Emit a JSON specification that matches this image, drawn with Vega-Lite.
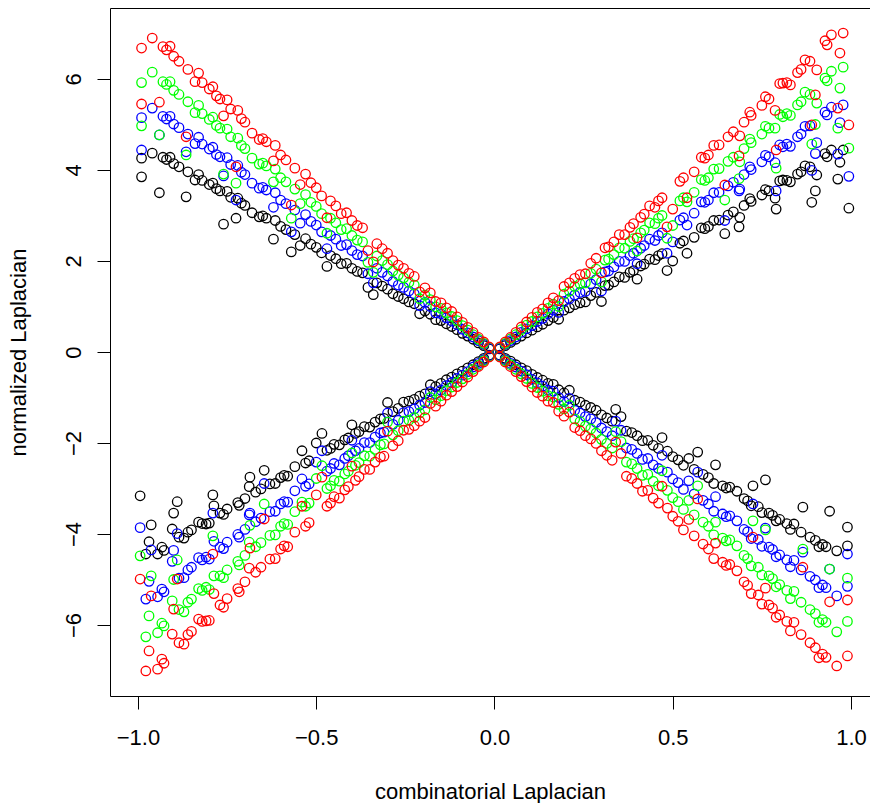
{
"$schema": "https://vega.github.io/schema/vega-lite/v6.json",
"width": 760, "height": 688,
"autosize": "none",
"padding": {"left": 110, "top": 8, "right": 0, "bottom": 107},
"background": "white",
"config": {"view": {"stroke": null}, "font": "Liberation Sans"},
"data": {"values": [
{"x":-0.99,"y":4.26,"c":"k"},{"x":0.99,"y":-4.26,"c":"k"},
{"x":-0.99,"y":3.85,"c":"k"},{"x":0.99,"y":-3.85,"c":"k"},
{"x":-0.96,"y":4.37,"c":"k"},{"x":0.96,"y":-4.37,"c":"k"},
{"x":-0.94,"y":3.5,"c":"k"},{"x":0.94,"y":-3.5,"c":"k"},
{"x":-0.92,"y":4.23,"c":"k"},{"x":0.92,"y":-4.23,"c":"k"},
{"x":-0.91,"y":4.28,"c":"k"},{"x":0.91,"y":-4.28,"c":"k"},
{"x":-0.9,"y":4.14,"c":"k"},{"x":0.9,"y":-4.14,"c":"k"},
{"x":-0.865,"y":3.41,"c":"k"},{"x":0.865,"y":-3.41,"c":"k"},
{"x":-0.86,"y":3.96,"c":"k"},{"x":0.86,"y":-3.96,"c":"k"},
{"x":-0.84,"y":3.78,"c":"k"},{"x":0.84,"y":-3.78,"c":"k"},
{"x":-0.8,"y":3.68,"c":"k"},{"x":0.8,"y":-3.68,"c":"k"},
{"x":-0.79,"y":3.71,"c":"k"},{"x":0.79,"y":-3.71,"c":"k"},
{"x":-0.78,"y":3.59,"c":"k"},{"x":0.78,"y":-3.59,"c":"k"},
{"x":-0.76,"y":2.81,"c":"k"},{"x":0.76,"y":-2.81,"c":"k"},
{"x":-0.74,"y":3.4,"c":"k"},{"x":0.74,"y":-3.4,"c":"k"},
{"x":-0.725,"y":2.94,"c":"k"},{"x":0.725,"y":-2.94,"c":"k"},
{"x":-0.72,"y":3.38,"c":"k"},{"x":0.72,"y":-3.38,"c":"k"},
{"x":-0.7,"y":3.22,"c":"k"},{"x":0.7,"y":-3.22,"c":"k"},
{"x":-0.66,"y":2.97,"c":"k"},{"x":0.66,"y":-2.97,"c":"k"},
{"x":-0.64,"y":2.94,"c":"k"},{"x":0.64,"y":-2.94,"c":"k"},
{"x":-0.62,"y":2.48,"c":"k"},{"x":0.62,"y":-2.48,"c":"k"},
{"x":-0.6,"y":2.76,"c":"k"},{"x":0.6,"y":-2.76,"c":"k"},
{"x":-0.57,"y":2.2,"c":"k"},{"x":0.57,"y":-2.2,"c":"k"},
{"x":-0.56,"y":2.58,"c":"k"},{"x":0.56,"y":-2.58,"c":"k"},
{"x":-0.53,"y":2.49,"c":"k"},{"x":0.53,"y":-2.49,"c":"k"},
{"x":-0.5,"y":2.3,"c":"k"},{"x":0.5,"y":-2.3,"c":"k"},
{"x":-0.47,"y":1.88,"c":"k"},{"x":0.47,"y":-1.88,"c":"k"},
{"x":-0.46,"y":2.12,"c":"k"},{"x":0.46,"y":-2.12,"c":"k"},
{"x":-0.43,"y":1.94,"c":"k"},{"x":0.43,"y":-1.94,"c":"k"},
{"x":-0.4,"y":1.84,"c":"k"},{"x":0.4,"y":-1.84,"c":"k"},
{"x":-0.37,"y":1.74,"c":"k"},{"x":0.37,"y":-1.74,"c":"k"},
{"x":-0.34,"y":1.26,"c":"k"},{"x":0.34,"y":-1.26,"c":"k"},
{"x":-0.33,"y":1.52,"c":"k"},{"x":0.33,"y":-1.52,"c":"k"},
{"x":-0.3,"y":1.38,"c":"k"},{"x":0.3,"y":-1.38,"c":"k"},
{"x":-0.27,"y":1.22,"c":"k"},{"x":0.27,"y":-1.22,"c":"k"},
{"x":-0.24,"y":1.1,"c":"k"},{"x":0.24,"y":-1.1,"c":"k"},
{"x":-0.21,"y":0.84,"c":"k"},{"x":0.21,"y":-0.84,"c":"k"},
{"x":-0.18,"y":0.83,"c":"k"},{"x":0.18,"y":-0.83,"c":"k"},
{"x":-0.15,"y":0.69,"c":"k"},{"x":0.15,"y":-0.69,"c":"k"},
{"x":-0.12,"y":0.56,"c":"k"},{"x":0.12,"y":-0.56,"c":"k"},
{"x":-0.09,"y":0.41,"c":"k"},{"x":0.09,"y":-0.41,"c":"k"},
{"x":-0.06,"y":0.28,"c":"k"},{"x":0.06,"y":-0.28,"c":"k"},
{"x":-0.03,"y":0.14,"c":"k"},{"x":0.03,"y":-0.14,"c":"k"},
{"x":-0.015,"y":0.07,"c":"k"},{"x":0.015,"y":-0.07,"c":"k"},
{"x":-0.045,"y":0.2,"c":"k"},{"x":0.045,"y":-0.2,"c":"k"},
{"x":-0.075,"y":0.35,"c":"k"},{"x":0.075,"y":-0.35,"c":"k"},
{"x":-0.105,"y":0.49,"c":"k"},{"x":0.105,"y":-0.49,"c":"k"},
{"x":-0.135,"y":0.62,"c":"k"},{"x":0.135,"y":-0.62,"c":"k"},
{"x":-0.165,"y":0.71,"c":"k"},{"x":0.165,"y":-0.71,"c":"k"},
{"x":-0.195,"y":0.9,"c":"k"},{"x":0.195,"y":-0.9,"c":"k"},
{"x":-0.225,"y":1.06,"c":"k"},{"x":0.225,"y":-1.06,"c":"k"},
{"x":-0.255,"y":1.17,"c":"k"},{"x":0.255,"y":-1.17,"c":"k"},
{"x":-0.285,"y":1.28,"c":"k"},{"x":0.285,"y":-1.28,"c":"k"},
{"x":-0.315,"y":1.45,"c":"k"},{"x":0.315,"y":-1.45,"c":"k"},
{"x":-0.355,"y":1.42,"c":"k"},{"x":0.355,"y":-1.42,"c":"k"},
{"x":-0.385,"y":1.77,"c":"k"},{"x":0.385,"y":-1.77,"c":"k"},
{"x":-0.415,"y":1.95,"c":"k"},{"x":0.415,"y":-1.95,"c":"k"},
{"x":-0.445,"y":2.05,"c":"k"},{"x":0.445,"y":-2.05,"c":"k"},
{"x":-0.485,"y":2.18,"c":"k"},{"x":0.485,"y":-2.18,"c":"k"},
{"x":-0.515,"y":2.37,"c":"k"},{"x":0.515,"y":-2.37,"c":"k"},
{"x":-0.545,"y":2.34,"c":"k"},{"x":0.545,"y":-2.34,"c":"k"},
{"x":-0.585,"y":2.69,"c":"k"},{"x":0.585,"y":-2.69,"c":"k"},
{"x":-0.615,"y":2.89,"c":"k"},{"x":0.615,"y":-2.89,"c":"k"},
{"x":-0.65,"y":2.99,"c":"k"},{"x":0.65,"y":-2.99,"c":"k"},
{"x":-0.68,"y":3.06,"c":"k"},{"x":0.68,"y":-3.06,"c":"k"},
{"x":-0.71,"y":3.27,"c":"k"},{"x":0.71,"y":-3.27,"c":"k"},
{"x":-0.75,"y":3.53,"c":"k"},{"x":0.75,"y":-3.53,"c":"k"},
{"x":-0.77,"y":3.54,"c":"k"},{"x":0.77,"y":-3.54,"c":"k"},
{"x":-0.82,"y":3.77,"c":"k"},{"x":0.82,"y":-3.77,"c":"k"},
{"x":-0.83,"y":3.9,"c":"k"},{"x":0.83,"y":-3.9,"c":"k"},
{"x":-0.885,"y":4.07,"c":"k"},{"x":0.885,"y":-4.07,"c":"k"},
{"x":-0.93,"y":4.28,"c":"k"},{"x":0.93,"y":-4.28,"c":"k"},
{"x":0.994,"y":3.16,"c":"k"},{"x":-0.994,"y":-3.16,"c":"k"},
{"x":0.978,"y":4.44,"c":"k"},{"x":-0.978,"y":-4.44,"c":"k"},
{"x":0.969,"y":4.17,"c":"k"},{"x":-0.969,"y":-4.17,"c":"k"},
{"x":0.963,"y":3.8,"c":"k"},{"x":-0.963,"y":-3.8,"c":"k"},
{"x":0.933,"y":4.29,"c":"k"},{"x":-0.933,"y":-4.29,"c":"k"},
{"x":0.927,"y":4.36,"c":"k"},{"x":-0.927,"y":-4.36,"c":"k"},
{"x":0.904,"y":3.89,"c":"k"},{"x":-0.904,"y":-3.89,"c":"k"},
{"x":0.9,"y":3.54,"c":"k"},{"x":-0.9,"y":-3.54,"c":"k"},
{"x":0.89,"y":3.29,"c":"k"},{"x":-0.89,"y":-3.29,"c":"k"},
{"x":0.885,"y":4.07,"c":"k"},{"x":-0.885,"y":-4.07,"c":"k"},
{"x":0.871,"y":4.09,"c":"k"},{"x":-0.871,"y":-4.09,"c":"k"},
{"x":0.85,"y":3.91,"c":"k"},{"x":-0.85,"y":-3.91,"c":"k"},
{"x":0.809,"y":3.78,"c":"k"},{"x":-0.809,"y":-3.78,"c":"k"},
{"x":0.8,"y":3.76,"c":"k"},{"x":-0.8,"y":-3.76,"c":"k"},
{"x":0.79,"y":3.14,"c":"k"},{"x":-0.79,"y":-3.14,"c":"k"},
{"x":0.787,"y":3.38,"c":"k"},{"x":-0.787,"y":-3.38,"c":"k"},
{"x":0.77,"y":3.54,"c":"k"},{"x":-0.77,"y":-3.54,"c":"k"},
{"x":0.75,"y":3.45,"c":"k"},{"x":-0.75,"y":-3.45,"c":"k"},
{"x":0.716,"y":3.37,"c":"k"},{"x":-0.716,"y":-3.37,"c":"k"},
{"x":0.7,"y":3.22,"c":"k"},{"x":-0.7,"y":-3.22,"c":"k"},
{"x":0.688,"y":2.96,"c":"k"},{"x":-0.688,"y":-2.96,"c":"k"},
{"x":0.686,"y":2.75,"c":"k"},{"x":-0.686,"y":-2.75,"c":"k"},
{"x":0.67,"y":3.08,"c":"k"},{"x":-0.67,"y":-3.08,"c":"k"},
{"x":0.646,"y":2.6,"c":"k"},{"x":-0.646,"y":-2.6,"c":"k"},
{"x":0.63,"y":2.9,"c":"k"},{"x":-0.63,"y":-2.9,"c":"k"},
{"x":0.6,"y":2.76,"c":"k"},{"x":-0.6,"y":-2.76,"c":"k"},
{"x":0.58,"y":2.73,"c":"k"},{"x":-0.58,"y":-2.73,"c":"k"},
{"x":0.54,"y":2.17,"c":"k"},{"x":-0.54,"y":-2.17,"c":"k"},
{"x":0.52,"y":2.39,"c":"k"},{"x":-0.52,"y":-2.39,"c":"k"},
{"x":0.484,"y":1.79,"c":"k"},{"x":-0.484,"y":-1.79,"c":"k"},
{"x":0.47,"y":2.16,"c":"k"},{"x":-0.47,"y":-2.16,"c":"k"},
{"x":0.45,"y":2.03,"c":"k"},{"x":-0.45,"y":-2.03,"c":"k"},
{"x":0.42,"y":1.93,"c":"k"},{"x":-0.42,"y":-1.93,"c":"k"},
{"x":0.4,"y":1.6,"c":"k"},{"x":-0.4,"y":-1.6,"c":"k"},
{"x":0.38,"y":1.75,"c":"k"},{"x":-0.38,"y":-1.75,"c":"k"},
{"x":0.35,"y":1.65,"c":"k"},{"x":-0.35,"y":-1.65,"c":"k"},
{"x":0.32,"y":1.47,"c":"k"},{"x":-0.32,"y":-1.47,"c":"k"},
{"x":0.3,"y":1.11,"c":"k"},{"x":-0.3,"y":-1.11,"c":"k"},
{"x":0.27,"y":1.24,"c":"k"},{"x":-0.27,"y":-1.24,"c":"k"},
{"x":0.24,"y":1.08,"c":"k"},{"x":-0.24,"y":-1.08,"c":"k"},
{"x":0.21,"y":0.97,"c":"k"},{"x":-0.21,"y":-0.97,"c":"k"},
{"x":0.18,"y":0.72,"c":"k"},{"x":-0.18,"y":-0.72,"c":"k"},
{"x":0.15,"y":0.69,"c":"k"},{"x":-0.15,"y":-0.69,"c":"k"},
{"x":0.12,"y":0.55,"c":"k"},{"x":-0.12,"y":-0.55,"c":"k"},
{"x":0.09,"y":0.42,"c":"k"},{"x":-0.09,"y":-0.42,"c":"k"},
{"x":0.06,"y":0.28,"c":"k"},{"x":-0.06,"y":-0.28,"c":"k"},
{"x":0.03,"y":0.14,"c":"k"},{"x":-0.03,"y":-0.14,"c":"k"},
{"x":0.015,"y":0.07,"c":"k"},{"x":-0.015,"y":-0.07,"c":"k"},
{"x":0.045,"y":0.21,"c":"k"},{"x":-0.045,"y":-0.21,"c":"k"},
{"x":0.075,"y":0.35,"c":"k"},{"x":-0.075,"y":-0.35,"c":"k"},
{"x":0.105,"y":0.48,"c":"k"},{"x":-0.105,"y":-0.48,"c":"k"},
{"x":0.135,"y":0.61,"c":"k"},{"x":-0.135,"y":-0.61,"c":"k"},
{"x":0.165,"y":0.76,"c":"k"},{"x":-0.165,"y":-0.76,"c":"k"},
{"x":0.195,"y":0.92,"c":"k"},{"x":-0.195,"y":-0.92,"c":"k"},
{"x":0.225,"y":1.04,"c":"k"},{"x":-0.225,"y":-1.04,"c":"k"},
{"x":0.255,"y":1.1,"c":"k"},{"x":-0.255,"y":-1.1,"c":"k"},
{"x":0.285,"y":1.31,"c":"k"},{"x":-0.285,"y":-1.31,"c":"k"},
{"x":0.31,"y":1.46,"c":"k"},{"x":-0.31,"y":-1.46,"c":"k"},
{"x":0.335,"y":1.54,"c":"k"},{"x":-0.335,"y":-1.54,"c":"k"},
{"x":0.365,"y":1.64,"c":"k"},{"x":-0.365,"y":-1.64,"c":"k"},
{"x":0.39,"y":1.79,"c":"k"},{"x":-0.39,"y":-1.79,"c":"k"},
{"x":0.41,"y":1.89,"c":"k"},{"x":-0.41,"y":-1.89,"c":"k"},
{"x":0.435,"y":2.04,"c":"k"},{"x":-0.435,"y":-2.04,"c":"k"},
{"x":0.46,"y":2.12,"c":"k"},{"x":-0.46,"y":-2.12,"c":"k"},
{"x":0.5,"y":2.0,"c":"k"},{"x":-0.5,"y":-2.0,"c":"k"},
{"x":0.53,"y":2.44,"c":"k"},{"x":-0.53,"y":-2.44,"c":"k"},
{"x":0.56,"y":2.52,"c":"k"},{"x":-0.56,"y":-2.52,"c":"k"},
{"x":0.59,"y":2.71,"c":"k"},{"x":-0.59,"y":-2.71,"c":"k"},
{"x":0.615,"y":2.89,"c":"k"},{"x":-0.615,"y":-2.89,"c":"k"},
{"x":0.655,"y":3.01,"c":"k"},{"x":-0.655,"y":-3.01,"c":"k"},
{"x":0.72,"y":3.31,"c":"k"},{"x":-0.72,"y":-3.31,"c":"k"},
{"x":0.76,"y":3.57,"c":"k"},{"x":-0.76,"y":-3.57,"c":"k"},
{"x":0.82,"y":3.77,"c":"k"},{"x":-0.82,"y":-3.77,"c":"k"},
{"x":0.83,"y":3.74,"c":"k"},{"x":-0.83,"y":-3.74,"c":"k"},
{"x":0.86,"y":3.96,"c":"k"},{"x":-0.86,"y":-3.96,"c":"k"},
{"x":0.945,"y":4.44,"c":"k"},{"x":-0.945,"y":-4.44,"c":"k"},

{"x":-0.99,"y":5.15,"c":"b"},{"x":0.99,"y":-5.15,"c":"b"},
{"x":-0.99,"y":4.44,"c":"b"},{"x":0.99,"y":-4.44,"c":"b"},
{"x":-0.96,"y":5.36,"c":"b"},{"x":0.96,"y":-5.36,"c":"b"},
{"x":-0.94,"y":4.77,"c":"b"},{"x":0.94,"y":-4.77,"c":"b"},
{"x":-0.92,"y":5.12,"c":"b"},{"x":0.92,"y":-5.12,"c":"b"},
{"x":-0.91,"y":5.18,"c":"b"},{"x":0.91,"y":-5.18,"c":"b"},
{"x":-0.9,"y":5.01,"c":"b"},{"x":0.9,"y":-5.01,"c":"b"},
{"x":-0.865,"y":4.4,"c":"b"},{"x":0.865,"y":-4.4,"c":"b"},
{"x":-0.86,"y":4.79,"c":"b"},{"x":0.86,"y":-4.79,"c":"b"},
{"x":-0.84,"y":4.58,"c":"b"},{"x":0.84,"y":-4.58,"c":"b"},
{"x":-0.8,"y":4.46,"c":"b"},{"x":0.8,"y":-4.46,"c":"b"},
{"x":-0.79,"y":4.5,"c":"b"},{"x":0.79,"y":-4.5,"c":"b"},
{"x":-0.78,"y":4.34,"c":"b"},{"x":0.78,"y":-4.34,"c":"b"},
{"x":-0.76,"y":3.87,"c":"b"},{"x":0.76,"y":-3.87,"c":"b"},
{"x":-0.74,"y":4.12,"c":"b"},{"x":0.74,"y":-4.12,"c":"b"},
{"x":-0.725,"y":3.34,"c":"b"},{"x":0.725,"y":-3.34,"c":"b"},
{"x":-0.72,"y":4.1,"c":"b"},{"x":0.72,"y":-4.1,"c":"b"},
{"x":-0.7,"y":3.9,"c":"b"},{"x":0.7,"y":-3.9,"c":"b"},
{"x":-0.66,"y":3.6,"c":"b"},{"x":0.66,"y":-3.6,"c":"b"},
{"x":-0.64,"y":3.56,"c":"b"},{"x":0.64,"y":-3.56,"c":"b"},
{"x":-0.62,"y":3.18,"c":"b"},{"x":0.62,"y":-3.18,"c":"b"},
{"x":-0.6,"y":3.34,"c":"b"},{"x":0.6,"y":-3.34,"c":"b"},
{"x":-0.57,"y":2.64,"c":"b"},{"x":0.57,"y":-2.64,"c":"b"},
{"x":-0.56,"y":3.12,"c":"b"},{"x":0.56,"y":-3.12,"c":"b"},
{"x":-0.53,"y":3.02,"c":"b"},{"x":0.53,"y":-3.02,"c":"b"},
{"x":-0.5,"y":2.79,"c":"b"},{"x":0.5,"y":-2.79,"c":"b"},
{"x":-0.47,"y":2.27,"c":"b"},{"x":0.47,"y":-2.27,"c":"b"},
{"x":-0.46,"y":2.56,"c":"b"},{"x":0.46,"y":-2.56,"c":"b"},
{"x":-0.43,"y":2.34,"c":"b"},{"x":0.43,"y":-2.34,"c":"b"},
{"x":-0.4,"y":2.23,"c":"b"},{"x":0.4,"y":-2.23,"c":"b"},
{"x":-0.37,"y":2.11,"c":"b"},{"x":0.37,"y":-2.11,"c":"b"},
{"x":-0.34,"y":1.52,"c":"b"},{"x":0.34,"y":-1.52,"c":"b"},
{"x":-0.33,"y":1.84,"c":"b"},{"x":0.33,"y":-1.84,"c":"b"},
{"x":-0.3,"y":1.67,"c":"b"},{"x":0.3,"y":-1.67,"c":"b"},
{"x":-0.27,"y":1.47,"c":"b"},{"x":0.27,"y":-1.47,"c":"b"},
{"x":-0.24,"y":1.34,"c":"b"},{"x":0.24,"y":-1.34,"c":"b"},
{"x":-0.21,"y":1.02,"c":"b"},{"x":0.21,"y":-1.02,"c":"b"},
{"x":-0.18,"y":1.0,"c":"b"},{"x":0.18,"y":-1.0,"c":"b"},
{"x":-0.15,"y":0.84,"c":"b"},{"x":0.15,"y":-0.84,"c":"b"},
{"x":-0.12,"y":0.68,"c":"b"},{"x":0.12,"y":-0.68,"c":"b"},
{"x":-0.09,"y":0.5,"c":"b"},{"x":0.09,"y":-0.5,"c":"b"},
{"x":-0.06,"y":0.33,"c":"b"},{"x":0.06,"y":-0.33,"c":"b"},
{"x":-0.03,"y":0.17,"c":"b"},{"x":0.03,"y":-0.17,"c":"b"},
{"x":-0.015,"y":0.08,"c":"b"},{"x":0.015,"y":-0.08,"c":"b"},
{"x":-0.045,"y":0.25,"c":"b"},{"x":0.045,"y":-0.25,"c":"b"},
{"x":-0.075,"y":0.42,"c":"b"},{"x":0.075,"y":-0.42,"c":"b"},
{"x":-0.105,"y":0.6,"c":"b"},{"x":0.105,"y":-0.6,"c":"b"},
{"x":-0.135,"y":0.75,"c":"b"},{"x":0.135,"y":-0.75,"c":"b"},
{"x":-0.165,"y":0.86,"c":"b"},{"x":0.165,"y":-0.86,"c":"b"},
{"x":-0.195,"y":1.09,"c":"b"},{"x":0.195,"y":-1.09,"c":"b"},
{"x":-0.225,"y":1.28,"c":"b"},{"x":0.225,"y":-1.28,"c":"b"},
{"x":-0.255,"y":1.42,"c":"b"},{"x":0.255,"y":-1.42,"c":"b"},
{"x":-0.285,"y":1.55,"c":"b"},{"x":0.285,"y":-1.55,"c":"b"},
{"x":-0.315,"y":1.75,"c":"b"},{"x":0.315,"y":-1.75,"c":"b"},
{"x":-0.355,"y":1.72,"c":"b"},{"x":0.355,"y":-1.72,"c":"b"},
{"x":-0.385,"y":2.14,"c":"b"},{"x":0.385,"y":-2.14,"c":"b"},
{"x":-0.415,"y":2.36,"c":"b"},{"x":0.415,"y":-2.36,"c":"b"},
{"x":-0.445,"y":2.48,"c":"b"},{"x":0.445,"y":-2.48,"c":"b"},
{"x":-0.485,"y":2.64,"c":"b"},{"x":0.485,"y":-2.64,"c":"b"},
{"x":-0.515,"y":2.87,"c":"b"},{"x":0.515,"y":-2.87,"c":"b"},
{"x":-0.545,"y":2.83,"c":"b"},{"x":0.545,"y":-2.83,"c":"b"},
{"x":-0.585,"y":3.26,"c":"b"},{"x":0.585,"y":-3.26,"c":"b"},
{"x":-0.615,"y":3.5,"c":"b"},{"x":0.615,"y":-3.5,"c":"b"},
{"x":-0.65,"y":3.62,"c":"b"},{"x":0.65,"y":-3.62,"c":"b"},
{"x":-0.68,"y":3.71,"c":"b"},{"x":0.68,"y":-3.71,"c":"b"},
{"x":-0.71,"y":3.95,"c":"b"},{"x":0.71,"y":-3.95,"c":"b"},
{"x":-0.75,"y":4.27,"c":"b"},{"x":0.75,"y":-4.27,"c":"b"},
{"x":-0.77,"y":4.29,"c":"b"},{"x":0.77,"y":-4.29,"c":"b"},
{"x":-0.82,"y":4.57,"c":"b"},{"x":0.82,"y":-4.57,"c":"b"},
{"x":-0.83,"y":4.72,"c":"b"},{"x":0.83,"y":-4.72,"c":"b"},
{"x":-0.885,"y":4.93,"c":"b"},{"x":0.885,"y":-4.93,"c":"b"},
{"x":-0.93,"y":5.18,"c":"b"},{"x":0.93,"y":-5.18,"c":"b"},
{"x":0.994,"y":3.86,"c":"b"},{"x":-0.994,"y":-3.86,"c":"b"},
{"x":0.978,"y":5.43,"c":"b"},{"x":-0.978,"y":-5.43,"c":"b"},
{"x":0.969,"y":5.04,"c":"b"},{"x":-0.969,"y":-5.04,"c":"b"},
{"x":0.963,"y":4.35,"c":"b"},{"x":-0.963,"y":-4.35,"c":"b"},
{"x":0.933,"y":5.21,"c":"b"},{"x":-0.933,"y":-5.21,"c":"b"},
{"x":0.927,"y":5.27,"c":"b"},{"x":-0.927,"y":-5.27,"c":"b"},
{"x":0.904,"y":4.6,"c":"b"},{"x":-0.904,"y":-4.6,"c":"b"},
{"x":0.9,"y":4.36,"c":"b"},{"x":-0.9,"y":-4.36,"c":"b"},
{"x":0.89,"y":3.99,"c":"b"},{"x":-0.89,"y":-3.99,"c":"b"},
{"x":0.885,"y":4.97,"c":"b"},{"x":-0.885,"y":-4.97,"c":"b"},
{"x":0.871,"y":4.96,"c":"b"},{"x":-0.871,"y":-4.96,"c":"b"},
{"x":0.85,"y":4.73,"c":"b"},{"x":-0.85,"y":-4.73,"c":"b"},
{"x":0.809,"y":4.51,"c":"b"},{"x":-0.809,"y":-4.51,"c":"b"},
{"x":0.8,"y":4.55,"c":"b"},{"x":-0.8,"y":-4.55,"c":"b"},
{"x":0.79,"y":3.54,"c":"b"},{"x":-0.79,"y":-3.54,"c":"b"},
{"x":0.787,"y":4.16,"c":"b"},{"x":-0.787,"y":-4.16,"c":"b"},
{"x":0.77,"y":4.29,"c":"b"},{"x":-0.77,"y":-4.29,"c":"b"},
{"x":0.75,"y":4.18,"c":"b"},{"x":-0.75,"y":-4.18,"c":"b"},
{"x":0.716,"y":4.07,"c":"b"},{"x":-0.716,"y":-4.07,"c":"b"},
{"x":0.7,"y":3.9,"c":"b"},{"x":-0.7,"y":-3.9,"c":"b"},
{"x":0.688,"y":3.58,"c":"b"},{"x":-0.688,"y":-3.58,"c":"b"},
{"x":0.686,"y":3.54,"c":"b"},{"x":-0.686,"y":-3.54,"c":"b"},
{"x":0.67,"y":3.73,"c":"b"},{"x":-0.67,"y":-3.73,"c":"b"},
{"x":0.646,"y":2.89,"c":"b"},{"x":-0.646,"y":-2.89,"c":"b"},
{"x":0.63,"y":3.51,"c":"b"},{"x":-0.63,"y":-3.51,"c":"b"},
{"x":0.6,"y":3.34,"c":"b"},{"x":-0.6,"y":-3.34,"c":"b"},
{"x":0.58,"y":3.3,"c":"b"},{"x":-0.58,"y":-3.3,"c":"b"},
{"x":0.54,"y":2.79,"c":"b"},{"x":-0.54,"y":-2.79,"c":"b"},
{"x":0.52,"y":2.9,"c":"b"},{"x":-0.52,"y":-2.9,"c":"b"},
{"x":0.484,"y":2.17,"c":"b"},{"x":-0.484,"y":-2.17,"c":"b"},
{"x":0.47,"y":2.62,"c":"b"},{"x":-0.47,"y":-2.62,"c":"b"},
{"x":0.45,"y":2.45,"c":"b"},{"x":-0.45,"y":-2.45,"c":"b"},
{"x":0.42,"y":2.34,"c":"b"},{"x":-0.42,"y":-2.34,"c":"b"},
{"x":0.4,"y":1.94,"c":"b"},{"x":-0.4,"y":-1.94,"c":"b"},
{"x":0.38,"y":2.12,"c":"b"},{"x":-0.38,"y":-2.12,"c":"b"},
{"x":0.35,"y":1.99,"c":"b"},{"x":-0.35,"y":-1.99,"c":"b"},
{"x":0.32,"y":1.78,"c":"b"},{"x":-0.32,"y":-1.78,"c":"b"},
{"x":0.3,"y":1.34,"c":"b"},{"x":-0.3,"y":-1.34,"c":"b"},
{"x":0.27,"y":1.5,"c":"b"},{"x":-0.27,"y":-1.5,"c":"b"},
{"x":0.24,"y":1.31,"c":"b"},{"x":-0.24,"y":-1.31,"c":"b"},
{"x":0.21,"y":1.17,"c":"b"},{"x":-0.21,"y":-1.17,"c":"b"},
{"x":0.18,"y":0.87,"c":"b"},{"x":-0.18,"y":-0.87,"c":"b"},
{"x":0.15,"y":0.84,"c":"b"},{"x":-0.15,"y":-0.84,"c":"b"},
{"x":0.12,"y":0.67,"c":"b"},{"x":-0.12,"y":-0.67,"c":"b"},
{"x":0.09,"y":0.51,"c":"b"},{"x":-0.09,"y":-0.51,"c":"b"},
{"x":0.06,"y":0.33,"c":"b"},{"x":-0.06,"y":-0.33,"c":"b"},
{"x":0.03,"y":0.17,"c":"b"},{"x":-0.03,"y":-0.17,"c":"b"},
{"x":0.015,"y":0.08,"c":"b"},{"x":-0.015,"y":-0.08,"c":"b"},
{"x":0.045,"y":0.25,"c":"b"},{"x":-0.045,"y":-0.25,"c":"b"},
{"x":0.075,"y":0.43,"c":"b"},{"x":-0.075,"y":-0.43,"c":"b"},
{"x":0.105,"y":0.58,"c":"b"},{"x":-0.105,"y":-0.58,"c":"b"},
{"x":0.135,"y":0.74,"c":"b"},{"x":-0.135,"y":-0.74,"c":"b"},
{"x":0.165,"y":0.92,"c":"b"},{"x":-0.165,"y":-0.92,"c":"b"},
{"x":0.195,"y":1.11,"c":"b"},{"x":-0.195,"y":-1.11,"c":"b"},
{"x":0.225,"y":1.25,"c":"b"},{"x":-0.225,"y":-1.25,"c":"b"},
{"x":0.255,"y":1.33,"c":"b"},{"x":-0.255,"y":-1.33,"c":"b"},
{"x":0.285,"y":1.59,"c":"b"},{"x":-0.285,"y":-1.59,"c":"b"},
{"x":0.31,"y":1.76,"c":"b"},{"x":-0.31,"y":-1.76,"c":"b"},
{"x":0.335,"y":1.87,"c":"b"},{"x":-0.335,"y":-1.87,"c":"b"},
{"x":0.365,"y":1.99,"c":"b"},{"x":-0.365,"y":-1.99,"c":"b"},
{"x":0.39,"y":2.17,"c":"b"},{"x":-0.39,"y":-2.17,"c":"b"},
{"x":0.41,"y":2.28,"c":"b"},{"x":-0.41,"y":-2.28,"c":"b"},
{"x":0.435,"y":2.48,"c":"b"},{"x":-0.435,"y":-2.48,"c":"b"},
{"x":0.46,"y":2.56,"c":"b"},{"x":-0.46,"y":-2.56,"c":"b"},
{"x":0.5,"y":2.42,"c":"b"},{"x":-0.5,"y":-2.42,"c":"b"},
{"x":0.53,"y":2.95,"c":"b"},{"x":-0.53,"y":-2.95,"c":"b"},
{"x":0.56,"y":3.05,"c":"b"},{"x":-0.56,"y":-3.05,"c":"b"},
{"x":0.59,"y":3.29,"c":"b"},{"x":-0.59,"y":-3.29,"c":"b"},
{"x":0.615,"y":3.5,"c":"b"},{"x":-0.615,"y":-3.5,"c":"b"},
{"x":0.655,"y":3.65,"c":"b"},{"x":-0.655,"y":-3.65,"c":"b"},
{"x":0.72,"y":4.01,"c":"b"},{"x":-0.72,"y":-4.01,"c":"b"},
{"x":0.76,"y":4.32,"c":"b"},{"x":-0.76,"y":-4.32,"c":"b"},
{"x":0.82,"y":4.57,"c":"b"},{"x":-0.82,"y":-4.57,"c":"b"},
{"x":0.83,"y":4.52,"c":"b"},{"x":-0.83,"y":-4.52,"c":"b"},
{"x":0.86,"y":4.79,"c":"b"},{"x":-0.86,"y":-4.79,"c":"b"},
{"x":0.945,"y":5.38,"c":"b"},{"x":-0.945,"y":-5.38,"c":"b"},

{"x":-0.99,"y":5.92,"c":"g"},{"x":0.99,"y":-5.92,"c":"g"},
{"x":-0.99,"y":4.97,"c":"g"},{"x":0.99,"y":-4.97,"c":"g"},
{"x":-0.96,"y":6.15,"c":"g"},{"x":0.96,"y":-6.15,"c":"g"},
{"x":-0.94,"y":4.77,"c":"g"},{"x":0.94,"y":-4.77,"c":"g"},
{"x":-0.92,"y":5.88,"c":"g"},{"x":0.92,"y":-5.88,"c":"g"},
{"x":-0.91,"y":5.94,"c":"g"},{"x":0.91,"y":-5.94,"c":"g"},
{"x":-0.9,"y":5.75,"c":"g"},{"x":0.9,"y":-5.75,"c":"g"},
{"x":-0.865,"y":4.33,"c":"g"},{"x":0.865,"y":-4.33,"c":"g"},
{"x":-0.86,"y":5.5,"c":"g"},{"x":0.86,"y":-5.5,"c":"g"},
{"x":-0.84,"y":5.26,"c":"g"},{"x":0.84,"y":-5.26,"c":"g"},
{"x":-0.8,"y":5.11,"c":"g"},{"x":0.8,"y":-5.11,"c":"g"},
{"x":-0.79,"y":5.16,"c":"g"},{"x":0.79,"y":-5.16,"c":"g"},
{"x":-0.78,"y":4.98,"c":"g"},{"x":0.78,"y":-4.98,"c":"g"},
{"x":-0.76,"y":3.91,"c":"g"},{"x":0.76,"y":-3.91,"c":"g"},
{"x":-0.74,"y":4.73,"c":"g"},{"x":0.74,"y":-4.73,"c":"g"},
{"x":-0.725,"y":3.71,"c":"g"},{"x":0.725,"y":-3.71,"c":"g"},
{"x":-0.72,"y":4.7,"c":"g"},{"x":0.72,"y":-4.7,"c":"g"},
{"x":-0.7,"y":4.47,"c":"g"},{"x":0.7,"y":-4.47,"c":"g"},
{"x":-0.66,"y":4.13,"c":"g"},{"x":0.66,"y":-4.13,"c":"g"},
{"x":-0.64,"y":4.09,"c":"g"},{"x":0.64,"y":-4.09,"c":"g"},
{"x":-0.62,"y":3.74,"c":"g"},{"x":0.62,"y":-3.74,"c":"g"},
{"x":-0.6,"y":3.83,"c":"g"},{"x":0.6,"y":-3.83,"c":"g"},
{"x":-0.57,"y":2.94,"c":"g"},{"x":0.57,"y":-2.94,"c":"g"},
{"x":-0.56,"y":3.58,"c":"g"},{"x":0.56,"y":-3.58,"c":"g"},
{"x":-0.53,"y":3.46,"c":"g"},{"x":0.53,"y":-3.46,"c":"g"},
{"x":-0.5,"y":3.2,"c":"g"},{"x":0.5,"y":-3.2,"c":"g"},
{"x":-0.47,"y":2.61,"c":"g"},{"x":0.47,"y":-2.61,"c":"g"},
{"x":-0.46,"y":2.94,"c":"g"},{"x":0.46,"y":-2.94,"c":"g"},
{"x":-0.43,"y":2.69,"c":"g"},{"x":0.43,"y":-2.69,"c":"g"},
{"x":-0.4,"y":2.56,"c":"g"},{"x":0.4,"y":-2.56,"c":"g"},
{"x":-0.37,"y":2.42,"c":"g"},{"x":0.37,"y":-2.42,"c":"g"},
{"x":-0.34,"y":1.75,"c":"g"},{"x":0.34,"y":-1.75,"c":"g"},
{"x":-0.33,"y":2.11,"c":"g"},{"x":0.33,"y":-2.11,"c":"g"},
{"x":-0.3,"y":1.92,"c":"g"},{"x":0.3,"y":-1.92,"c":"g"},
{"x":-0.27,"y":1.69,"c":"g"},{"x":0.27,"y":-1.69,"c":"g"},
{"x":-0.24,"y":1.53,"c":"g"},{"x":0.24,"y":-1.53,"c":"g"},
{"x":-0.21,"y":1.17,"c":"g"},{"x":0.21,"y":-1.17,"c":"g"},
{"x":-0.18,"y":1.15,"c":"g"},{"x":0.18,"y":-1.15,"c":"g"},
{"x":-0.15,"y":0.96,"c":"g"},{"x":0.15,"y":-0.96,"c":"g"},
{"x":-0.12,"y":0.78,"c":"g"},{"x":0.12,"y":-0.78,"c":"g"},
{"x":-0.09,"y":0.58,"c":"g"},{"x":0.09,"y":-0.58,"c":"g"},
{"x":-0.06,"y":0.38,"c":"g"},{"x":0.06,"y":-0.38,"c":"g"},
{"x":-0.03,"y":0.19,"c":"g"},{"x":0.03,"y":-0.19,"c":"g"},
{"x":-0.015,"y":0.1,"c":"g"},{"x":0.015,"y":-0.1,"c":"g"},
{"x":-0.045,"y":0.28,"c":"g"},{"x":0.045,"y":-0.28,"c":"g"},
{"x":-0.075,"y":0.48,"c":"g"},{"x":0.075,"y":-0.48,"c":"g"},
{"x":-0.105,"y":0.69,"c":"g"},{"x":0.105,"y":-0.69,"c":"g"},
{"x":-0.135,"y":0.86,"c":"g"},{"x":0.135,"y":-0.86,"c":"g"},
{"x":-0.165,"y":0.99,"c":"g"},{"x":0.165,"y":-0.99,"c":"g"},
{"x":-0.195,"y":1.25,"c":"g"},{"x":0.195,"y":-1.25,"c":"g"},
{"x":-0.225,"y":1.47,"c":"g"},{"x":0.225,"y":-1.47,"c":"g"},
{"x":-0.255,"y":1.63,"c":"g"},{"x":0.255,"y":-1.63,"c":"g"},
{"x":-0.285,"y":1.78,"c":"g"},{"x":0.285,"y":-1.78,"c":"g"},
{"x":-0.315,"y":2.01,"c":"g"},{"x":0.315,"y":-2.01,"c":"g"},
{"x":-0.355,"y":1.97,"c":"g"},{"x":0.355,"y":-1.97,"c":"g"},
{"x":-0.385,"y":2.46,"c":"g"},{"x":0.385,"y":-2.46,"c":"g"},
{"x":-0.415,"y":2.71,"c":"g"},{"x":0.415,"y":-2.71,"c":"g"},
{"x":-0.445,"y":2.84,"c":"g"},{"x":0.445,"y":-2.84,"c":"g"},
{"x":-0.485,"y":3.04,"c":"g"},{"x":0.485,"y":-3.04,"c":"g"},
{"x":-0.515,"y":3.29,"c":"g"},{"x":0.515,"y":-3.29,"c":"g"},
{"x":-0.545,"y":3.26,"c":"g"},{"x":0.545,"y":-3.26,"c":"g"},
{"x":-0.585,"y":3.74,"c":"g"},{"x":0.585,"y":-3.74,"c":"g"},
{"x":-0.615,"y":4.02,"c":"g"},{"x":0.615,"y":-4.02,"c":"g"},
{"x":-0.65,"y":4.15,"c":"g"},{"x":0.65,"y":-4.15,"c":"g"},
{"x":-0.68,"y":4.26,"c":"g"},{"x":0.68,"y":-4.26,"c":"g"},
{"x":-0.71,"y":4.54,"c":"g"},{"x":0.71,"y":-4.54,"c":"g"},
{"x":-0.75,"y":4.9,"c":"g"},{"x":0.75,"y":-4.9,"c":"g"},
{"x":-0.77,"y":4.92,"c":"g"},{"x":0.77,"y":-4.92,"c":"g"},
{"x":-0.82,"y":5.24,"c":"g"},{"x":0.82,"y":-5.24,"c":"g"},
{"x":-0.83,"y":5.42,"c":"g"},{"x":0.83,"y":-5.42,"c":"g"},
{"x":-0.885,"y":5.66,"c":"g"},{"x":0.885,"y":-5.66,"c":"g"},
{"x":-0.93,"y":5.94,"c":"g"},{"x":0.93,"y":-5.94,"c":"g"},
{"x":0.994,"y":4.48,"c":"g"},{"x":-0.994,"y":-4.48,"c":"g"},
{"x":0.978,"y":6.26,"c":"g"},{"x":-0.978,"y":-6.26,"c":"g"},
{"x":0.969,"y":5.8,"c":"g"},{"x":-0.969,"y":-5.8,"c":"g"},
{"x":0.963,"y":4.92,"c":"g"},{"x":-0.963,"y":-4.92,"c":"g"},
{"x":0.933,"y":5.96,"c":"g"},{"x":-0.933,"y":-5.96,"c":"g"},
{"x":0.927,"y":6.02,"c":"g"},{"x":-0.927,"y":-6.02,"c":"g"},
{"x":0.904,"y":5.47,"c":"g"},{"x":-0.904,"y":-5.47,"c":"g"},
{"x":0.9,"y":5.0,"c":"g"},{"x":-0.9,"y":-5.0,"c":"g"},
{"x":0.89,"y":4.57,"c":"g"},{"x":-0.89,"y":-4.57,"c":"g"},
{"x":0.885,"y":5.66,"c":"g"},{"x":-0.885,"y":-5.66,"c":"g"},
{"x":0.871,"y":5.71,"c":"g"},{"x":-0.871,"y":-5.71,"c":"g"},
{"x":0.85,"y":5.43,"c":"g"},{"x":-0.85,"y":-5.43,"c":"g"},
{"x":0.809,"y":5.17,"c":"g"},{"x":-0.809,"y":-5.17,"c":"g"},
{"x":0.8,"y":5.22,"c":"g"},{"x":-0.8,"y":-5.22,"c":"g"},
{"x":0.79,"y":4.04,"c":"g"},{"x":-0.79,"y":-4.04,"c":"g"},
{"x":0.787,"y":4.92,"c":"g"},{"x":-0.787,"y":-4.92,"c":"g"},
{"x":0.77,"y":4.92,"c":"g"},{"x":-0.77,"y":-4.92,"c":"g"},
{"x":0.75,"y":4.79,"c":"g"},{"x":-0.75,"y":-4.79,"c":"g"},
{"x":0.716,"y":4.68,"c":"g"},{"x":-0.716,"y":-4.68,"c":"g"},
{"x":0.7,"y":4.47,"c":"g"},{"x":-0.7,"y":-4.47,"c":"g"},
{"x":0.688,"y":4.18,"c":"g"},{"x":-0.688,"y":-4.18,"c":"g"},
{"x":0.686,"y":3.81,"c":"g"},{"x":-0.686,"y":-3.81,"c":"g"},
{"x":0.67,"y":4.28,"c":"g"},{"x":-0.67,"y":-4.28,"c":"g"},
{"x":0.646,"y":3.34,"c":"g"},{"x":-0.646,"y":-3.34,"c":"g"},
{"x":0.63,"y":4.03,"c":"g"},{"x":-0.63,"y":-4.03,"c":"g"},
{"x":0.6,"y":3.83,"c":"g"},{"x":-0.6,"y":-3.83,"c":"g"},
{"x":0.58,"y":3.79,"c":"g"},{"x":-0.58,"y":-3.79,"c":"g"},
{"x":0.54,"y":3.3,"c":"g"},{"x":-0.54,"y":-3.3,"c":"g"},
{"x":0.52,"y":3.32,"c":"g"},{"x":-0.52,"y":-3.32,"c":"g"},
{"x":0.484,"y":2.5,"c":"g"},{"x":-0.484,"y":-2.5,"c":"g"},
{"x":0.47,"y":3.0,"c":"g"},{"x":-0.47,"y":-3.0,"c":"g"},
{"x":0.45,"y":2.82,"c":"g"},{"x":-0.45,"y":-2.82,"c":"g"},
{"x":0.42,"y":2.68,"c":"g"},{"x":-0.42,"y":-2.68,"c":"g"},
{"x":0.4,"y":2.22,"c":"g"},{"x":-0.4,"y":-2.22,"c":"g"},
{"x":0.38,"y":2.43,"c":"g"},{"x":-0.38,"y":-2.43,"c":"g"},
{"x":0.35,"y":2.29,"c":"g"},{"x":-0.35,"y":-2.29,"c":"g"},
{"x":0.32,"y":2.04,"c":"g"},{"x":-0.32,"y":-2.04,"c":"g"},
{"x":0.3,"y":1.54,"c":"g"},{"x":-0.3,"y":-1.54,"c":"g"},
{"x":0.27,"y":1.73,"c":"g"},{"x":-0.27,"y":-1.73,"c":"g"},
{"x":0.24,"y":1.5,"c":"g"},{"x":-0.24,"y":-1.5,"c":"g"},
{"x":0.21,"y":1.34,"c":"g"},{"x":-0.21,"y":-1.34,"c":"g"},
{"x":0.18,"y":1.0,"c":"g"},{"x":-0.18,"y":-1.0,"c":"g"},
{"x":0.15,"y":0.96,"c":"g"},{"x":-0.15,"y":-0.96,"c":"g"},
{"x":0.12,"y":0.77,"c":"g"},{"x":-0.12,"y":-0.77,"c":"g"},
{"x":0.09,"y":0.59,"c":"g"},{"x":-0.09,"y":-0.59,"c":"g"},
{"x":0.06,"y":0.38,"c":"g"},{"x":-0.06,"y":-0.38,"c":"g"},
{"x":0.03,"y":0.19,"c":"g"},{"x":-0.03,"y":-0.19,"c":"g"},
{"x":0.015,"y":0.1,"c":"g"},{"x":-0.015,"y":-0.1,"c":"g"},
{"x":0.045,"y":0.29,"c":"g"},{"x":-0.045,"y":-0.29,"c":"g"},
{"x":0.075,"y":0.49,"c":"g"},{"x":-0.075,"y":-0.49,"c":"g"},
{"x":0.105,"y":0.67,"c":"g"},{"x":-0.105,"y":-0.67,"c":"g"},
{"x":0.135,"y":0.85,"c":"g"},{"x":-0.135,"y":-0.85,"c":"g"},
{"x":0.165,"y":1.05,"c":"g"},{"x":-0.165,"y":-1.05,"c":"g"},
{"x":0.195,"y":1.27,"c":"g"},{"x":-0.195,"y":-1.27,"c":"g"},
{"x":0.225,"y":1.44,"c":"g"},{"x":-0.225,"y":-1.44,"c":"g"},
{"x":0.255,"y":1.52,"c":"g"},{"x":-0.255,"y":-1.52,"c":"g"},
{"x":0.285,"y":1.82,"c":"g"},{"x":-0.285,"y":-1.82,"c":"g"},
{"x":0.31,"y":2.02,"c":"g"},{"x":-0.31,"y":-2.02,"c":"g"},
{"x":0.335,"y":2.14,"c":"g"},{"x":-0.335,"y":-2.14,"c":"g"},
{"x":0.365,"y":2.28,"c":"g"},{"x":-0.365,"y":-2.28,"c":"g"},
{"x":0.39,"y":2.49,"c":"g"},{"x":-0.39,"y":-2.49,"c":"g"},
{"x":0.41,"y":2.62,"c":"g"},{"x":-0.41,"y":-2.62,"c":"g"},
{"x":0.435,"y":2.84,"c":"g"},{"x":-0.435,"y":-2.84,"c":"g"},
{"x":0.46,"y":2.94,"c":"g"},{"x":-0.46,"y":-2.94,"c":"g"},
{"x":0.5,"y":2.78,"c":"g"},{"x":-0.5,"y":-2.78,"c":"g"},
{"x":0.53,"y":3.39,"c":"g"},{"x":-0.53,"y":-3.39,"c":"g"},
{"x":0.56,"y":3.51,"c":"g"},{"x":-0.56,"y":-3.51,"c":"g"},
{"x":0.59,"y":3.77,"c":"g"},{"x":-0.59,"y":-3.77,"c":"g"},
{"x":0.615,"y":4.02,"c":"g"},{"x":-0.615,"y":-4.02,"c":"g"},
{"x":0.655,"y":4.19,"c":"g"},{"x":-0.655,"y":-4.19,"c":"g"},
{"x":0.72,"y":4.6,"c":"g"},{"x":-0.72,"y":-4.6,"c":"g"},
{"x":0.76,"y":4.96,"c":"g"},{"x":-0.76,"y":-4.96,"c":"g"},
{"x":0.82,"y":5.24,"c":"g"},{"x":-0.82,"y":-5.24,"c":"g"},
{"x":0.83,"y":5.2,"c":"g"},{"x":-0.83,"y":-5.2,"c":"g"},
{"x":0.86,"y":5.5,"c":"g"},{"x":-0.86,"y":-5.5,"c":"g"},
{"x":0.945,"y":6.17,"c":"g"},{"x":-0.945,"y":-6.17,"c":"g"},

{"x":-0.99,"y":6.68,"c":"r"},{"x":0.99,"y":-6.68,"c":"r"},
{"x":-0.99,"y":5.45,"c":"r"},{"x":0.99,"y":-5.45,"c":"r"},
{"x":-0.96,"y":6.9,"c":"r"},{"x":0.96,"y":-6.9,"c":"r"},
{"x":-0.94,"y":5.49,"c":"r"},{"x":0.94,"y":-5.49,"c":"r"},
{"x":-0.92,"y":6.64,"c":"r"},{"x":0.92,"y":-6.64,"c":"r"},
{"x":-0.91,"y":6.72,"c":"r"},{"x":0.91,"y":-6.72,"c":"r"},
{"x":-0.9,"y":6.5,"c":"r"},{"x":0.9,"y":-6.5,"c":"r"},
{"x":-0.865,"y":4.73,"c":"r"},{"x":0.865,"y":-4.73,"c":"r"},
{"x":-0.86,"y":6.21,"c":"r"},{"x":0.86,"y":-6.21,"c":"r"},
{"x":-0.84,"y":5.94,"c":"r"},{"x":0.84,"y":-5.94,"c":"r"},
{"x":-0.8,"y":5.78,"c":"r"},{"x":0.8,"y":-5.78,"c":"r"},
{"x":-0.79,"y":5.83,"c":"r"},{"x":0.79,"y":-5.83,"c":"r"},
{"x":-0.78,"y":5.63,"c":"r"},{"x":0.78,"y":-5.63,"c":"r"},
{"x":-0.76,"y":5.19,"c":"r"},{"x":0.76,"y":-5.19,"c":"r"},
{"x":-0.74,"y":5.34,"c":"r"},{"x":0.74,"y":-5.34,"c":"r"},
{"x":-0.725,"y":4.07,"c":"r"},{"x":0.725,"y":-4.07,"c":"r"},
{"x":-0.72,"y":5.31,"c":"r"},{"x":0.72,"y":-5.31,"c":"r"},
{"x":-0.7,"y":5.05,"c":"r"},{"x":0.7,"y":-5.05,"c":"r"},
{"x":-0.66,"y":4.67,"c":"r"},{"x":0.66,"y":-4.67,"c":"r"},
{"x":-0.64,"y":4.62,"c":"r"},{"x":0.64,"y":-4.62,"c":"r"},
{"x":-0.62,"y":4.2,"c":"r"},{"x":0.62,"y":-4.2,"c":"r"},
{"x":-0.6,"y":4.33,"c":"r"},{"x":0.6,"y":-4.33,"c":"r"},
{"x":-0.57,"y":3.23,"c":"r"},{"x":0.57,"y":-3.23,"c":"r"},
{"x":-0.56,"y":4.04,"c":"r"},{"x":0.56,"y":-4.04,"c":"r"},
{"x":-0.53,"y":3.91,"c":"r"},{"x":0.53,"y":-3.91,"c":"r"},
{"x":-0.5,"y":3.61,"c":"r"},{"x":0.5,"y":-3.61,"c":"r"},
{"x":-0.47,"y":2.95,"c":"r"},{"x":0.47,"y":-2.95,"c":"r"},
{"x":-0.46,"y":3.32,"c":"r"},{"x":0.46,"y":-3.32,"c":"r"},
{"x":-0.43,"y":3.04,"c":"r"},{"x":0.43,"y":-3.04,"c":"r"},
{"x":-0.4,"y":2.89,"c":"r"},{"x":0.4,"y":-2.89,"c":"r"},
{"x":-0.37,"y":2.73,"c":"r"},{"x":0.37,"y":-2.73,"c":"r"},
{"x":-0.34,"y":1.98,"c":"r"},{"x":0.34,"y":-1.98,"c":"r"},
{"x":-0.33,"y":2.38,"c":"r"},{"x":0.33,"y":-2.38,"c":"r"},
{"x":-0.3,"y":2.17,"c":"r"},{"x":0.3,"y":-2.17,"c":"r"},
{"x":-0.27,"y":1.91,"c":"r"},{"x":0.27,"y":-1.91,"c":"r"},
{"x":-0.24,"y":1.73,"c":"r"},{"x":0.24,"y":-1.73,"c":"r"},
{"x":-0.21,"y":1.32,"c":"r"},{"x":0.21,"y":-1.32,"c":"r"},
{"x":-0.18,"y":1.3,"c":"r"},{"x":0.18,"y":-1.3,"c":"r"},
{"x":-0.15,"y":1.08,"c":"r"},{"x":0.15,"y":-1.08,"c":"r"},
{"x":-0.12,"y":0.89,"c":"r"},{"x":0.12,"y":-0.89,"c":"r"},
{"x":-0.09,"y":0.65,"c":"r"},{"x":0.09,"y":-0.65,"c":"r"},
{"x":-0.06,"y":0.43,"c":"r"},{"x":0.06,"y":-0.43,"c":"r"},
{"x":-0.03,"y":0.22,"c":"r"},{"x":0.03,"y":-0.22,"c":"r"},
{"x":-0.015,"y":0.11,"c":"r"},{"x":0.015,"y":-0.11,"c":"r"},
{"x":-0.045,"y":0.32,"c":"r"},{"x":0.045,"y":-0.32,"c":"r"},
{"x":-0.075,"y":0.54,"c":"r"},{"x":0.075,"y":-0.54,"c":"r"},
{"x":-0.105,"y":0.77,"c":"r"},{"x":0.105,"y":-0.77,"c":"r"},
{"x":-0.135,"y":0.97,"c":"r"},{"x":0.135,"y":-0.97,"c":"r"},
{"x":-0.165,"y":1.11,"c":"r"},{"x":0.165,"y":-1.11,"c":"r"},
{"x":-0.195,"y":1.41,"c":"r"},{"x":0.195,"y":-1.41,"c":"r"},
{"x":-0.225,"y":1.66,"c":"r"},{"x":0.225,"y":-1.66,"c":"r"},
{"x":-0.255,"y":1.84,"c":"r"},{"x":0.255,"y":-1.84,"c":"r"},
{"x":-0.285,"y":2.01,"c":"r"},{"x":0.285,"y":-2.01,"c":"r"},
{"x":-0.315,"y":2.27,"c":"r"},{"x":0.315,"y":-2.27,"c":"r"},
{"x":-0.355,"y":2.23,"c":"r"},{"x":0.355,"y":-2.23,"c":"r"},
{"x":-0.385,"y":2.78,"c":"r"},{"x":0.385,"y":-2.78,"c":"r"},
{"x":-0.415,"y":3.06,"c":"r"},{"x":0.415,"y":-3.06,"c":"r"},
{"x":-0.445,"y":3.21,"c":"r"},{"x":0.445,"y":-3.21,"c":"r"},
{"x":-0.485,"y":3.43,"c":"r"},{"x":0.485,"y":-3.43,"c":"r"},
{"x":-0.515,"y":3.72,"c":"r"},{"x":0.515,"y":-3.72,"c":"r"},
{"x":-0.545,"y":3.68,"c":"r"},{"x":0.545,"y":-3.68,"c":"r"},
{"x":-0.585,"y":4.22,"c":"r"},{"x":0.585,"y":-4.22,"c":"r"},
{"x":-0.615,"y":4.54,"c":"r"},{"x":0.615,"y":-4.54,"c":"r"},
{"x":-0.65,"y":4.69,"c":"r"},{"x":0.65,"y":-4.69,"c":"r"},
{"x":-0.68,"y":4.81,"c":"r"},{"x":0.68,"y":-4.81,"c":"r"},
{"x":-0.71,"y":5.13,"c":"r"},{"x":0.71,"y":-5.13,"c":"r"},
{"x":-0.75,"y":5.54,"c":"r"},{"x":0.75,"y":-5.54,"c":"r"},
{"x":-0.77,"y":5.56,"c":"r"},{"x":0.77,"y":-5.56,"c":"r"},
{"x":-0.82,"y":5.92,"c":"r"},{"x":0.82,"y":-5.92,"c":"r"},
{"x":-0.83,"y":6.13,"c":"r"},{"x":0.83,"y":-6.13,"c":"r"},
{"x":-0.885,"y":6.39,"c":"r"},{"x":0.885,"y":-6.39,"c":"r"},
{"x":-0.93,"y":6.71,"c":"r"},{"x":0.93,"y":-6.71,"c":"r"},
{"x":0.994,"y":4.99,"c":"r"},{"x":-0.994,"y":-4.99,"c":"r"},
{"x":0.978,"y":7.01,"c":"r"},{"x":-0.978,"y":-7.01,"c":"r"},
{"x":0.969,"y":6.57,"c":"r"},{"x":-0.969,"y":-6.57,"c":"r"},
{"x":0.963,"y":5.36,"c":"r"},{"x":-0.963,"y":-5.36,"c":"r"},
{"x":0.933,"y":6.75,"c":"r"},{"x":-0.933,"y":-6.75,"c":"r"},
{"x":0.927,"y":6.84,"c":"r"},{"x":-0.927,"y":-6.84,"c":"r"},
{"x":0.904,"y":6.2,"c":"r"},{"x":-0.904,"y":-6.2,"c":"r"},
{"x":0.9,"y":5.65,"c":"r"},{"x":-0.9,"y":-5.65,"c":"r"},
{"x":0.89,"y":4.99,"c":"r"},{"x":-0.89,"y":-4.99,"c":"r"},
{"x":0.885,"y":6.39,"c":"r"},{"x":-0.885,"y":-6.39,"c":"r"},
{"x":0.871,"y":6.42,"c":"r"},{"x":-0.871,"y":-6.42,"c":"r"},
{"x":0.85,"y":6.14,"c":"r"},{"x":-0.85,"y":-6.14,"c":"r"},
{"x":0.809,"y":5.91,"c":"r"},{"x":-0.809,"y":-5.91,"c":"r"},
{"x":0.8,"y":5.9,"c":"r"},{"x":-0.8,"y":-5.9,"c":"r"},
{"x":0.79,"y":4.44,"c":"r"},{"x":-0.79,"y":-4.44,"c":"r"},
{"x":0.787,"y":5.31,"c":"r"},{"x":-0.787,"y":-5.31,"c":"r"},
{"x":0.77,"y":5.56,"c":"r"},{"x":-0.77,"y":-5.56,"c":"r"},
{"x":0.75,"y":5.42,"c":"r"},{"x":-0.75,"y":-5.42,"c":"r"},
{"x":0.716,"y":5.27,"c":"r"},{"x":-0.716,"y":-5.27,"c":"r"},
{"x":0.7,"y":5.05,"c":"r"},{"x":-0.7,"y":-5.05,"c":"r"},
{"x":0.688,"y":4.75,"c":"r"},{"x":-0.688,"y":-4.75,"c":"r"},
{"x":0.686,"y":4.31,"c":"r"},{"x":-0.686,"y":-4.31,"c":"r"},
{"x":0.67,"y":4.84,"c":"r"},{"x":-0.67,"y":-4.84,"c":"r"},
{"x":0.646,"y":3.67,"c":"r"},{"x":-0.646,"y":-3.67,"c":"r"},
{"x":0.63,"y":4.55,"c":"r"},{"x":-0.63,"y":-4.55,"c":"r"},
{"x":0.6,"y":4.33,"c":"r"},{"x":-0.6,"y":-4.33,"c":"r"},
{"x":0.58,"y":4.28,"c":"r"},{"x":-0.58,"y":-4.28,"c":"r"},
{"x":0.54,"y":3.39,"c":"r"},{"x":-0.54,"y":-3.39,"c":"r"},
{"x":0.52,"y":3.75,"c":"r"},{"x":-0.52,"y":-3.75,"c":"r"},
{"x":0.484,"y":2.75,"c":"r"},{"x":-0.484,"y":-2.75,"c":"r"},
{"x":0.47,"y":3.39,"c":"r"},{"x":-0.47,"y":-3.39,"c":"r"},
{"x":0.45,"y":3.18,"c":"r"},{"x":-0.45,"y":-3.18,"c":"r"},
{"x":0.42,"y":3.03,"c":"r"},{"x":-0.42,"y":-3.03,"c":"r"},
{"x":0.4,"y":2.51,"c":"r"},{"x":-0.4,"y":-2.51,"c":"r"},
{"x":0.38,"y":2.74,"c":"r"},{"x":-0.38,"y":-2.74,"c":"r"},
{"x":0.35,"y":2.58,"c":"r"},{"x":-0.35,"y":-2.58,"c":"r"},
{"x":0.32,"y":2.31,"c":"r"},{"x":-0.32,"y":-2.31,"c":"r"},
{"x":0.3,"y":1.74,"c":"r"},{"x":-0.3,"y":-1.74,"c":"r"},
{"x":0.27,"y":1.95,"c":"r"},{"x":-0.27,"y":-1.95,"c":"r"},
{"x":0.24,"y":1.7,"c":"r"},{"x":-0.24,"y":-1.7,"c":"r"},
{"x":0.21,"y":1.52,"c":"r"},{"x":-0.21,"y":-1.52,"c":"r"},
{"x":0.18,"y":1.13,"c":"r"},{"x":-0.18,"y":-1.13,"c":"r"},
{"x":0.15,"y":1.08,"c":"r"},{"x":-0.15,"y":-1.08,"c":"r"},
{"x":0.12,"y":0.87,"c":"r"},{"x":-0.12,"y":-0.87,"c":"r"},
{"x":0.09,"y":0.66,"c":"r"},{"x":-0.09,"y":-0.66,"c":"r"},
{"x":0.06,"y":0.43,"c":"r"},{"x":-0.06,"y":-0.43,"c":"r"},
{"x":0.03,"y":0.22,"c":"r"},{"x":-0.03,"y":-0.22,"c":"r"},
{"x":0.015,"y":0.11,"c":"r"},{"x":-0.015,"y":-0.11,"c":"r"},
{"x":0.045,"y":0.32,"c":"r"},{"x":-0.045,"y":-0.32,"c":"r"},
{"x":0.075,"y":0.55,"c":"r"},{"x":-0.075,"y":-0.55,"c":"r"},
{"x":0.105,"y":0.76,"c":"r"},{"x":-0.105,"y":-0.76,"c":"r"},
{"x":0.135,"y":0.95,"c":"r"},{"x":-0.135,"y":-0.95,"c":"r"},
{"x":0.165,"y":1.19,"c":"r"},{"x":-0.165,"y":-1.19,"c":"r"},
{"x":0.195,"y":1.44,"c":"r"},{"x":-0.195,"y":-1.44,"c":"r"},
{"x":0.225,"y":1.62,"c":"r"},{"x":-0.225,"y":-1.62,"c":"r"},
{"x":0.255,"y":1.72,"c":"r"},{"x":-0.255,"y":-1.72,"c":"r"},
{"x":0.285,"y":2.06,"c":"r"},{"x":-0.285,"y":-2.06,"c":"r"},
{"x":0.31,"y":2.29,"c":"r"},{"x":-0.31,"y":-2.29,"c":"r"},
{"x":0.335,"y":2.42,"c":"r"},{"x":-0.335,"y":-2.42,"c":"r"},
{"x":0.365,"y":2.58,"c":"r"},{"x":-0.365,"y":-2.58,"c":"r"},
{"x":0.39,"y":2.82,"c":"r"},{"x":-0.39,"y":-2.82,"c":"r"},
{"x":0.41,"y":2.96,"c":"r"},{"x":-0.41,"y":-2.96,"c":"r"},
{"x":0.435,"y":3.21,"c":"r"},{"x":-0.435,"y":-3.21,"c":"r"},
{"x":0.46,"y":3.32,"c":"r"},{"x":-0.46,"y":-3.32,"c":"r"},
{"x":0.5,"y":3.14,"c":"r"},{"x":-0.5,"y":-3.14,"c":"r"},
{"x":0.53,"y":3.83,"c":"r"},{"x":-0.53,"y":-3.83,"c":"r"},
{"x":0.56,"y":3.96,"c":"r"},{"x":-0.56,"y":-3.96,"c":"r"},
{"x":0.59,"y":4.26,"c":"r"},{"x":-0.59,"y":-4.26,"c":"r"},
{"x":0.615,"y":4.54,"c":"r"},{"x":-0.615,"y":-4.54,"c":"r"},
{"x":0.655,"y":4.73,"c":"r"},{"x":-0.655,"y":-4.73,"c":"r"},
{"x":0.72,"y":5.2,"c":"r"},{"x":-0.72,"y":-5.2,"c":"r"},
{"x":0.76,"y":5.61,"c":"r"},{"x":-0.76,"y":-5.61,"c":"r"},
{"x":0.82,"y":5.92,"c":"r"},{"x":-0.82,"y":-5.92,"c":"r"},
{"x":0.83,"y":5.87,"c":"r"},{"x":-0.83,"y":-5.87,"c":"r"},
{"x":0.86,"y":6.21,"c":"r"},{"x":-0.86,"y":-6.21,"c":"r"},
{"x":0.945,"y":6.97,"c":"r"},{"x":-0.945,"y":-6.97,"c":"r"}
]},
"layer": [
{"mark": {"type": "point", "shape": "circle", "filled": false, "size": 90, "strokeWidth": 1.3, "opacity": 1},
 "encoding": {
  "x": {"field": "x", "type": "quantitative",
   "scale": {"domain": [-1.0785, 1.0533], "nice": false, "zero": false},
   "axis": {"values": [-1, -0.5, 0, 0.5, 1], "format": ".1f", "grid": false,
    "tickSize": 13, "tickColor": "black", "tickWidth": 1,
    "domainColor": "black", "domainWidth": 1,
    "labelFontSize": 22, "labelColor": "black", "labelFont": "Liberation Sans",
    "labelPadding": 35, "labelBaseline": "alphabetic", "labelFlush": false, "labelOverlap": false,
    "title": "combinatorial Laplacian", "titleFontSize": 22, "titleFontWeight": "normal",
    "titleColor": "black", "titleFont": "Liberation Sans", "titleBaseline": "alphabetic", "titleY": 102}},
  "y": {"field": "y", "type": "quantitative",
   "scale": {"domain": [-7.56, 7.56], "nice": false, "zero": false},
   "axis": {"values": [-6, -4, -2, 0, 2, 4, 6], "format": "d", "grid": false,
    "tickSize": 13, "tickColor": "black", "tickWidth": 1,
    "domainColor": "black", "domainWidth": 1,
    "labelFontSize": 22, "labelColor": "black", "labelFont": "Liberation Sans",
    "labelAngle": -90, "labelAlign": "center", "labelBaseline": "alphabetic",
    "labelPadding": 17, "labelFlush": false, "labelOverlap": false,
    "title": "normalized Laplacian", "titleFontSize": 22, "titleFontWeight": "normal",
    "titleColor": "black", "titleFont": "Liberation Sans", "titleAngle": -90,
    "titleBaseline": "alphabetic", "titleX": -85}},
  "color": {"field": "c", "type": "nominal",
   "scale": {"domain": ["k", "b", "g", "r"], "range": ["#000000", "#0000ff", "#00ff00", "#ff0000"]},
   "legend": null}
 }},
{"data": {"values": [{"z": 0}]},
 "mark": {"type": "rule", "opacity": 0},
 "encoding": {
  "x": {"field": "z", "type": "quantitative",
   "axis": {"orient": "top", "labels": false, "ticks": false, "domain": true,
    "domainColor": "black", "domainWidth": 1, "title": null, "grid": false}}
 }}
],
"resolve": {"axis": {"x": "independent"}}
}
